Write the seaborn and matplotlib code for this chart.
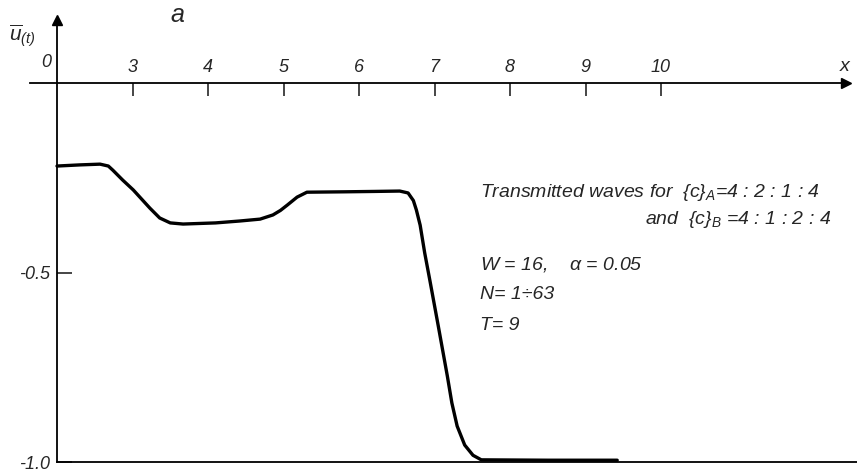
import numpy as np
import pandas as pd
import matplotlib
matplotlib.use("Agg")
import matplotlib.pyplot as plt
import seaborn as sns

# transmitted wave u(t) (x shifted: origin is at x=2)
x_vals = [2.0, 2.3, 2.57, 2.68, 2.74, 2.87, 3.01, 3.12, 3.23, 3.36, 3.50, 3.67, 4.1,
          4.42, 4.69, 4.86, 4.96, 5.05, 5.18, 5.31, 5.8, 6.2, 6.54, 6.65, 6.72,
          6.76, 6.81, 6.87, 6.94, 7.05, 7.17, 7.23, 7.30, 7.40, 7.51, 7.62, 8.5, 9.42]
u_vals = [-0.219, -0.216, -0.214, -0.219, -0.230, -0.256, -0.282, -0.306, -0.330, -0.356,
          -0.369, -0.372, -0.369, -0.364, -0.359, -0.348, -0.336, -0.322, -0.301, -0.288,
          -0.287, -0.286, -0.285, -0.290, -0.310, -0.335, -0.375, -0.448, -0.522, -0.641,
          -0.773, -0.844, -0.905, -0.955, -0.982, -0.994, -0.995, -0.995]
xtick_pos = [3, 4, 5, 6, 7, 8, 9, 10]
xtick_labels = ["3", "4", "5", "6", "7", "8", "9", "10"]
ytick_pos = [-0.5, -1.0]
ytick_labels = ["-0.5", "-1.0"]

df = pd.DataFrame({"x": x_vals, "u": u_vals})

sns.set_style("white")
plt.rcParams['font.family'] = ['Liberation Sans', 'DejaVu Sans']
plt.rcParams['font.style'] = 'italic'
plt.rcParams['mathtext.fontset'] = 'custom'
plt.rcParams['mathtext.rm'] = 'Liberation Sans:italic'
plt.rcParams['mathtext.it'] = 'Liberation Sans:italic'

fig = plt.figure(figsize=(8.57, 4.75), dpi=100)
ax = fig.add_axes([0, 0, 1, 1])
ax.set_xlim(1.245, 12.596)
ax.set_ylim(-1.034, 0.219)

sns.lineplot(data=df, x="x", y="u", ax=ax, color="black", linewidth=2.4, sort=False,
             solid_joinstyle='round', solid_capstyle='round')

# axes drawn as spines through the origin
ax.spines['right'].set_visible(False)
ax.spines['left'].set_position(('data', 2))
ax.spines['left'].set_bounds(-1.0, 0.165)
ax.spines['top'].set_position(('data', 0))
ax.spines['top'].set_bounds(1.64, 12.45)
ax.spines['bottom'].set_position(('data', -1.0))
ax.spines['bottom'].set_bounds(2, 12.6)
for s in ['left', 'top', 'bottom']:
    ax.spines[s].set_linewidth(1.3)
    ax.spines[s].set_color('black')

# arrow heads
ax.plot(2, 0.165, marker='^', color='black', markersize=7, clip_on=False)
ax.plot(12.45, 0, marker='>', color='black', markersize=7, clip_on=False)

ax.set_xticks(xtick_pos)
ax.set_xticklabels(xtick_labels)
ax.tick_params(axis='x', bottom=False, labelbottom=False, top=True, labeltop=True,
               direction='in', length=9, width=1.2, pad=5, labelsize=13)
ax.set_yticks(ytick_pos)
ax.set_yticklabels(ytick_labels)
ax.tick_params(axis='y', left=True, direction='in', length=11, width=1.2, pad=5,
               labelsize=13)
for lab in ax.get_xticklabels() + ax.get_yticklabels():
    lab.set_style('italic')
ax.set_xlabel("")
ax.set_ylabel("")

ax.annotate("0", xy=(2, 0), xytext=(-8, 9), textcoords='offset points',
            ha='center', va='bottom', fontsize=13, style='italic')
ax.text(0.986, 0.859, "x", transform=ax.transAxes, ha='center', va='center', fontsize=14)
ax.text(0.207, 0.968, "a", transform=ax.transAxes, ha='center', va='center', fontsize=18)
ax.text(0.026, 0.925, r"$\overline{u}_{(t)}$", transform=ax.transAxes,
        ha='center', va='center', fontsize=15)

ax.text(7.60, -0.288, r"Transmitted waves for  $\{c\}_A$=4 : 2 : 1 : 4",
        ha='left', va='center', fontsize=14)
ax.text(12.26, -0.361, r"and  $\{c\}_B$ =4 : 1 : 2 : 4",
        ha='right', va='center', fontsize=14)
ax.text(7.60, -0.480, r"W = 16,    $\alpha$ = 0.05", ha='left', va='center', fontsize=14)
ax.text(7.60, -0.559, "N= 1÷63", ha='left', va='center', fontsize=14)
ax.text(7.60, -0.639, "T= 9", ha='left', va='center', fontsize=14)

fig.savefig("out.png", dpi=100)
